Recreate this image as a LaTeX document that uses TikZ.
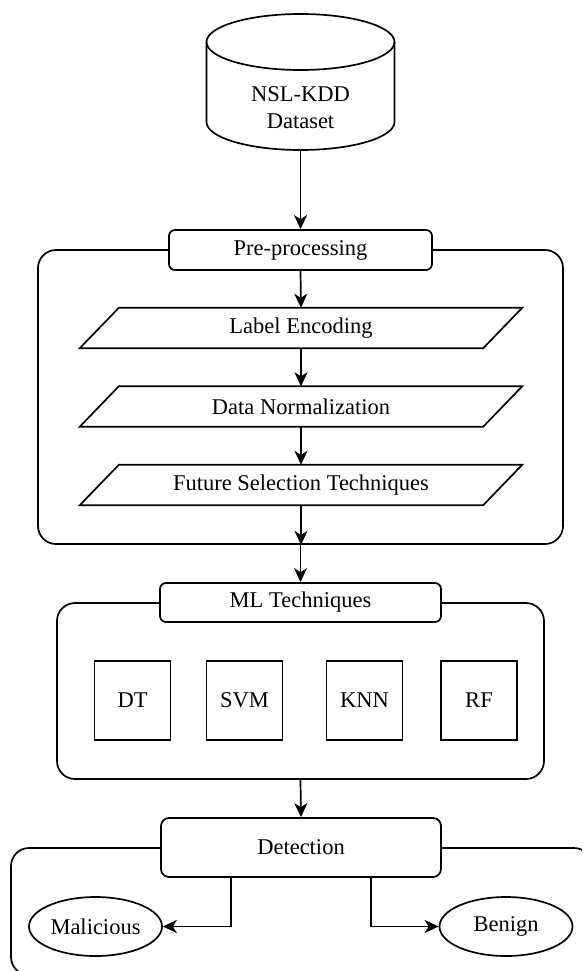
\documentclass[tikz,border=0pt]{standalone}
\usepackage{fontspec}
\setmainfont{Liberation Serif}
\newfontfamily\tnr{Liberation Serif}
\usetikzlibrary{arrows.meta,shapes.geometric}
\newcommand\txt{\tnr\fontsize{22.5}{27}\selectfont}
\tikzset{
  ln/.style={line width=1.7pt, draw=black},
  arr/.style={ln, -{Stealth[length=14pt,width=13pt,inset=4pt]}},
  hdr/.style={ln, fill=white, rounded corners=6pt, inner sep=0pt, font=\txt},
  grp/.style={ln, rounded corners=18pt, inner sep=0pt},
  algo/.style={ln, fill=white, inner sep=0pt, minimum width=76pt, minimum height=79pt, font=\txt},
  io/.style={inner sep=0pt, minimum width=403pt, minimum height=40pt, font=\txt},
  res/.style={ln, ellipse, inner sep=0pt, minimum width=133pt, minimum height=59pt, font=\txt},
}
\begin{document}
\begin{tikzpicture}[x=1pt,y=-1pt]
\path[use as bounding box] (0,0) rectangle (582,971);
\clip (0,0) rectangle (582,971);
\fill[white] (0,0) rectangle (582,971);

% group frames
\node[grp, minimum width=525pt, minimum height=294pt] (g1) at (300.5,397) {};
\node[grp, minimum width=487pt, minimum height=176pt] (g2) at (300.5,691) {};
\node[grp, minimum width=581pt, minimum height=127pt] (g3) at (301.5,911.5) {};

% database cylinder
\fill[white] (206.5,42) -- (206.5,122) arc[start angle=180, end angle=0, x radius=94, y radius=28] -- (394.5,42) arc[start angle=0, end angle=-180, x radius=94, y radius=28] -- cycle;
\draw[ln] (206.5,42) -- (206.5,122) arc[start angle=180, end angle=0, x radius=94, y radius=28] -- (394.5,42);
\draw[ln] (300.5,42) ellipse[x radius=94, y radius=28];
\node[font=\txt, align=center, inner sep=0pt] (db) at (300.5,108) {NSL-KDD\\Dataset};
\coordinate (dbb) at (300.5,150);

% pre-processing
\node[hdr, minimum width=263pt, minimum height=40pt] (pre) at (300.5,250) {Pre-processing};
\node[io] (le) at (301,328) {Label Encoding};
\node[io] (dn) at (301,406.5) {Data Normalization};
\node[io] (fs) at (301,485) {Future Selection Techniques};
\foreach \n in {le,dn,fs}{
  \draw[ln] ([xshift=-19.5pt]\n.south west) -- ([xshift=19.5pt]\n.north west) -- ([xshift=19.5pt]\n.north east) -- ([xshift=-19.5pt]\n.south east) -- cycle;
}

% ML techniques
\node[hdr, minimum width=281pt, minimum height=39pt] (ml) at (300.5,602.5) {ML Techniques};
\node[algo] (dt) at (132.5,700.5) {DT};
\node[algo] (svm) at (244.5,700.5) {SVM};
\node[algo] (knn) at (364.5,700.5) {KNN};
\node[algo] (rf) at (479,700.5) {RF};

% detection
\node[hdr, rounded corners=8pt, minimum width=280pt, minimum height=59pt] (det) at (301,847.5) {Detection};
\node[res] (mal) at (95.5,926.5) {Malicious};
\node[res] (ben) at (506,926.5) {Benign};

% connectors
\draw[arr] (dbb) -- (pre.north);
\draw[arr] (pre.south) -- (le.north);
\draw[arr] (le.south) -- (dn.north);
\draw[arr] (dn.south) -- (fs.north);
\draw[arr] (fs.south) -- (fs.south |- g1.south);
\draw[arr] (g1.south) -- (ml.north);
\draw[arr] (g2.south) -- (det.north);
\draw[arr] ([xshift=-70pt]det.south) |- (mal.east);
\draw[arr] ([xshift=70pt]det.south) |- (ben.west);
\end{tikzpicture}
\end{document}
